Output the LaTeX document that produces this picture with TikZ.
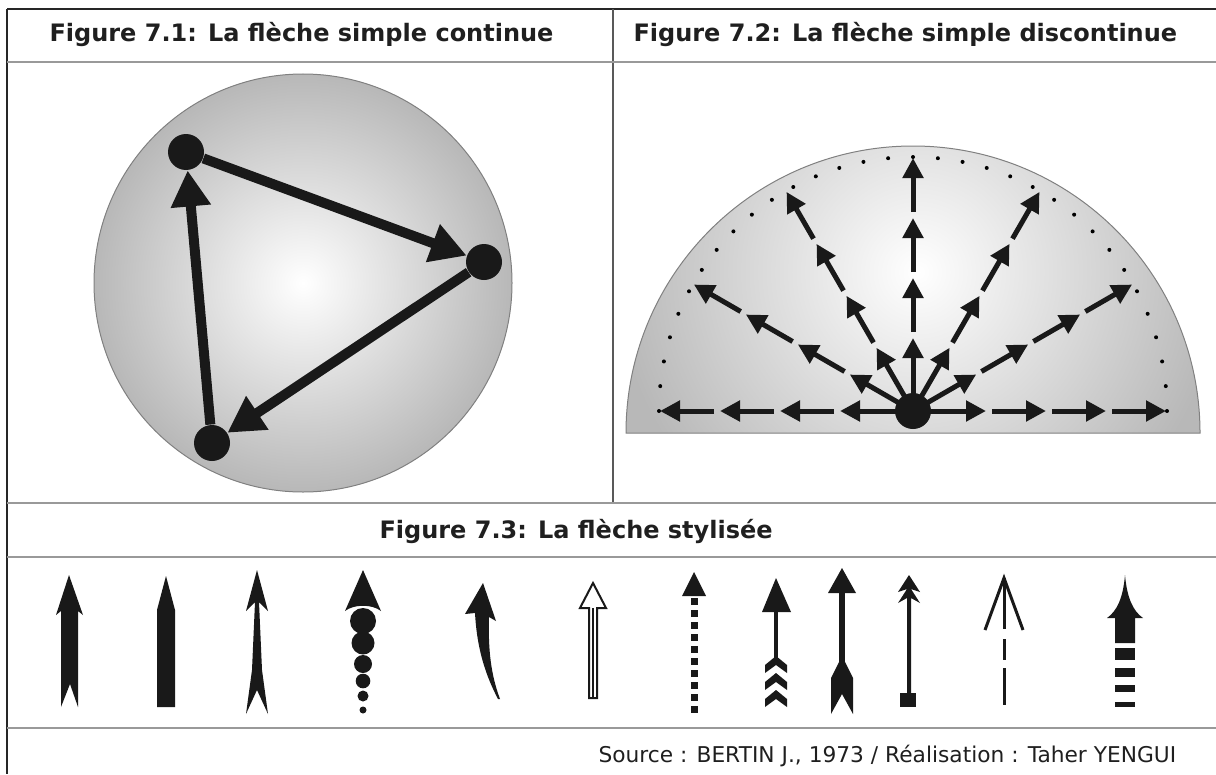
\documentclass[tikz,border=0pt]{standalone}
\usepackage{fontspec}
\setmainfont{DejaVu Sans}
\usetikzlibrary{arrows.meta,calc}
\tikzset{every picture/.style={line width=0.75pt}}
\tikzset{
  frame/.style={line width=1.5pt, black!85},
  rule/.style={line width=1.5pt, black!40},
  titletext/.style={anchor=base west, inner sep=0pt, text=black!88, font=\bfseries\fontsize{18}{21}\selectfont},
  dot/.style={circle, fill=black!90, inner sep=0pt, minimum size=27pt},
  link/.style={line width=7.5pt, black!90, -{Triangle[length=27pt,width=28.5pt]}},
  ray/.style={line width=3.75pt, black!90, -{Triangle[length=15pt,width=15pt]}},
  ink/.style={fill=black!90, draw=none},
}

\begin{document}
\begin{tikzpicture}[x=0.75pt,y=0.75pt,yscale=-1,xscale=1]
\useasboundingbox (0,0) rectangle (1216,774);

%Straight Lines: frame and rules
\draw[frame] (7,9) -- (1216,9) ;
\draw[frame] (7,9) -- (7,774) ;
\draw[black!65, line width=1pt] (613,9) -- (613,503) ;
\draw[rule] (7,62) -- (1216,62) ;
\draw[rule] (7,503) -- (1216,503) ;
\draw[rule] (7,557) -- (1216,557) ;
\draw[rule] (7,728) -- (1216,728) ;

% Text Node
\node[titletext] (title1) at (49,42) {Figure 7.1: La flèche simple continue};
% Text Node
\node[titletext] (title2) at (633,42) {Figure 7.2: La flèche simple discontinue};
% Text Node
\node[titletext] (title3) at (379,538) {Figure 7.3: La flèche stylisée};
% Text Node
\node[anchor=base west, inner sep=0pt, text=black!88, font=\fontsize{16.3}{19}\selectfont] (source) at (598,762) {Source : BERTIN J., 1973 / Réalisation : Taher YENGUI};

%Shape: Circle (figure 7.1)
\shadedraw[inner color=white, outer color=black!28, draw=black!50] (303,283) circle (209) ;
\node[dot] (dotA) at (186,152) {};
\node[dot] (dotB) at (484,262) {};
\node[dot] (dotC) at (212,443) {};
\draw[link] (dotA) -- (dotB) ;
\draw[link] (dotB) -- (dotC) ;
\draw[link] (dotC) -- (dotA) ;

%Shape: Half circle (figure 7.2)
\begin{scope}
\clip (626,433) arc[start angle=180, end angle=360, radius=287] -- cycle ;
\shade[inner color=white, outer color=black!28] (613,-33) rectangle (1223,577) ;
\end{scope}
\draw[black!50] (626,433) arc[start angle=180, end angle=360, radius=287] -- cycle ;
\node[dot] (hub) at (913,411) {};
\foreach \a in {0,30,...,180}{
  \draw[ray] (hub.center) -- ($(hub)+(-\a:73)$) ;
  \foreach \rs/\rt in {79/133,139/193,199/253}
    \draw[ray] ($(hub)+(-\a:\rs)$) -- ($(hub)+(-\a:\rt)$) ;
}
\foreach \i in {0,...,32}
  \fill[black] ($(hub)+({-\i*5.625}:254)$) circle (2) ;

%Shape: stylised arrows (figure 7.3)
\fill[ink] (69,575) -- (83,615) -- (78,611) -- (78,707) -- (70,684) -- (61,707) -- (61,611) -- (56,615) -- cycle ;
\fill[ink] (166,576) -- (175,610) -- (175,707) -- (157,707) -- (157,610) -- cycle ;
\fill[ink] (257,570) -- (268,611) -- (259,602) -- (262,670) -- (268,714) -- (257,690) -- (246,714) -- (252,670) -- (255,602) -- (246,611) -- cycle ;
\fill[ink] (363,570) -- (381,611) .. controls (372,604) and (354,604) .. (345,611) -- cycle ;
\foreach \cy/\r in {621/13,643/11.5,664/9,681/7.3,696/5.5,710/3.5}
  \fill[ink] (363,\cy) circle (\r) ;
\fill[ink] (483,583) -- (496,621) -- (489,617) .. controls (488,650) and (491,675) .. (500,699) -- (498,699) .. controls (486,676) and (477,650) .. (475,613) -- (465,614) -- cycle ;
\draw[black!90, line width=1.5pt, line join=miter] (593,583) -- (606,608) -- (597,608) -- (597,698) -- (589,698) -- (589,608) -- (580,608) -- cycle ;
\draw[black!90, line width=1.5pt] (593,608) -- (593,698) ;
\fill[ink] (694,572) -- (706,596) -- (682,596) -- cycle ;
\foreach \k in {0,...,9}
  \fill[ink] (690.5,{598+12*\k}) rectangle ++(7,7) ;
\fill[ink] (776,578) -- (791,612) -- (762,612) -- cycle ;
\fill[ink] (774,610) rectangle (778,660) ;
\foreach \k in {0,1,2}
  \fill[ink] (776,{656+17*\k}) -- (787,{665+17*\k}) -- (787,{673+17*\k}) -- (776,{665+17*\k}) -- (765,{673+17*\k}) -- (765,{665+17*\k}) -- cycle ;
\fill[ink] (842,568) -- (856,593) -- (828,593) -- cycle ;
\fill[ink] (839,592) rectangle (845,662) ;
\fill[ink] (842,656) -- (853,678) -- (853,714) -- (842,694) -- (831,714) -- (831,678) -- cycle ;
\fill[ink] (909,575) -- (920,592) -- (911,589) -- (920,603) -- (911,598) -- (911,693) -- (907,693) -- (907,598) -- (898,603) -- (907,589) -- (898,592) -- cycle ;
\fill[ink] (900,693) rectangle (916,707) ;
\draw[black!90, line width=2.25pt] (985,630) -- (1004,578) -- (1023,630) ;
\draw[black!90, line width=2.25pt] (1004,578) -- (1004,629) (1004,639) -- (1004,660) (1004,668) -- (1004,705) ;
\fill[ink] (1125,575) .. controls (1127,598) and (1133,611) .. (1143,618) -- (1135,618) -- (1135,643) -- (1115,643) -- (1115,618) -- (1107,618) .. controls (1117,611) and (1123,598) .. (1125,575) -- cycle ;
\fill[ink] (1115,648) rectangle (1135,660) ;
\fill[ink] (1115,668) rectangle (1135,677) ;
\fill[ink] (1115,685) rectangle (1135,692) ;
\fill[ink] (1115,702) rectangle (1135,707) ;

\end{tikzpicture}
\end{document}
